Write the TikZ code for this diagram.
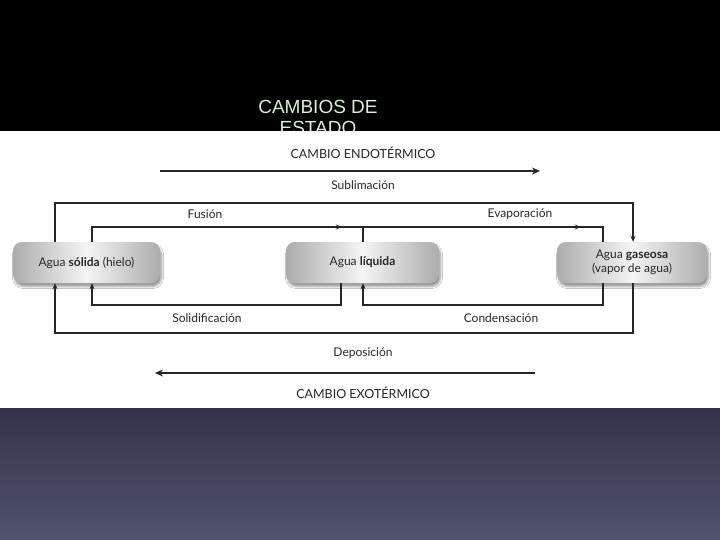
\documentclass[tikz,border=0pt]{standalone}
\usepackage{fontspec}
\setmainfont{Lato}
\newfontfamily\titlefont{Liberation Sans}
\usetikzlibrary{arrows.meta,shadows.blur,decorations.markings}

\definecolor{titlegreen}{RGB}{218,240,214}
\definecolor{bandtop}{RGB}{52,50,75}
\definecolor{bandbot}{RGB}{80,84,111}
\definecolor{inkgray}{RGB}{40,40,40}

\tikzset{
  state/.style={rounded corners=9pt, minimum height=41pt, inner sep=2pt,
    left color=gray!65, right color=gray!65, middle color=gray!8,
    blur shadow={shadow xshift=1.5pt, shadow yshift=-3.5pt, shadow blur steps=6},
    font=\fontsize{12}{14}\selectfont, text=inkgray, align=center},
  lbl/.style={font=\fontsize{12}{14}\selectfont, text=inkgray},
  capslbl/.style={font=\fontsize{12.5}{14}\selectfont, text=inkgray},
  conn/.style={line width=1.8pt, black!85},
  tip/.style={-{Stealth[length=6pt,width=5pt]}},
  midtip/.style={postaction={decorate}, decoration={markings,
    mark=at position #1 with {\arrow{Stealth[length=6pt,width=5pt]}}}},
  bigarrow/.style={line width=2.4pt, black!85, -{Stealth[length=8pt,width=7pt]}}
}

\begin{document}
\begin{tikzpicture}[x=1pt, y=-1pt]

  \useasboundingbox (0,0) rectangle (720,540);

  % -- Slide background --
  \fill[black] (0,0) rectangle (720,131);
  \node[font=\titlefont\fontsize{19}{21}\selectfont, text=titlegreen, align=center]
    (titulo) at (318,117) {CAMBIOS DE\\ESTADO};
  \fill[white] (0,131) rectangle (720,408);
  \shade[top color=bandtop, bottom color=bandbot] (0,408) rectangle (720,540);

  % -- Rails and columns --
  \coordinate (topout) at (0,203);
  \coordinate (topin)  at (0,227);
  \coordinate (botin)  at (0,305);
  \coordinate (botout) at (0,333);
  \coordinate (cA) at (55,0);
  \coordinate (cB) at (92,0);
  \coordinate (cC) at (341,0);
  \coordinate (cD) at (363,0);
  \coordinate (cE) at (603,0);
  \coordinate (cF) at (633,0);

  % -- States --
  \node[state, minimum width=147pt] (solido)  at (86.5,262.5) {Agua \textbf{sólida} (hielo)};
  \node[state, minimum width=153pt] (liquido) at (362.5,262.5) {Agua \textbf{líquida}};
  \node[state, minimum width=150pt] (gas)     at (632,262.5) {Agua \textbf{gaseosa}\\(vapor de agua)};

  % -- Heat direction arrows --
  \coordinate (endoA) at (160,171);
  \coordinate (endoB) at (540,171);
  \coordinate (exoA)  at (535,373);
  \coordinate (exoB)  at (155,373);
  \draw[bigarrow] (endoA) -- (endoB);
  \draw[bigarrow] (exoA) -- (exoB);
  \node[capslbl] (endo) at (363,153) {CAMBIO ENDOTÉRMICO};
  \node[capslbl] (exo)  at (363,393) {CAMBIO EXOTÉRMICO};

  % -- Upper paths --
  \draw[conn, tip] (solido.north -| cA) |- (topout -| cF) -- (gas.north -| cF);
  \draw[conn, midtip=-36pt] (solido.north -| cB) |- (topin -| cD) -- (liquido.north -| cD);
  \draw[conn, midtip=-37pt] (liquido.north -| cD) |- (topin -| cE) -- (gas.north -| cE);
  \node[lbl] (lsubl) at (363,185) {Sublimación};
  \node[lbl] (lfus)  at (205,214) {Fusión};
  \node[lbl] (levap) at (520,214) {Evaporación};

  % -- Lower paths --
  \draw[conn, tip] (liquido.south -| cC) |- (botin -| cB) -- (solido.south -| cB);
  \draw[conn, tip] (gas.south -| cE) |- (botin -| cD) -- (liquido.south -| cD);
  \draw[conn, tip] (gas.south -| cF) |- (botout -| cA) -- (solido.south -| cA);
  \node[lbl] (lsolid) at (207,318) {Solidificación};
  \node[lbl] (lcond)  at (501,318) {Condensación};
  \node[lbl] (ldepo)  at (363,353) {Deposición};

\end{tikzpicture}
\end{document}
